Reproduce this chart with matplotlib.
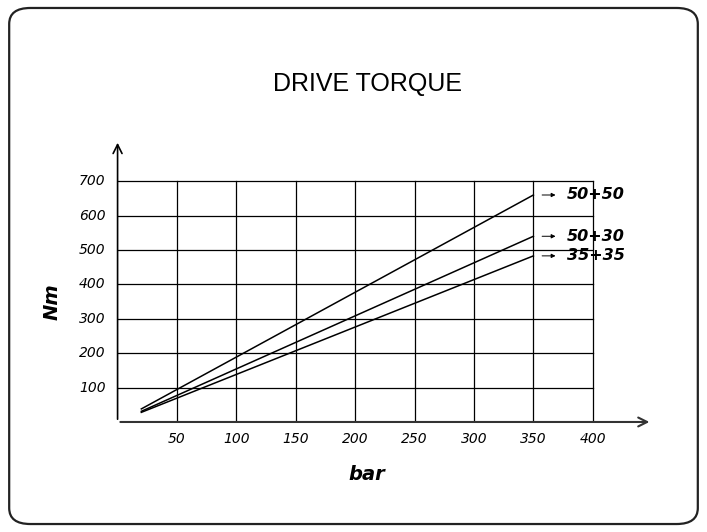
import matplotlib.pyplot as plt
from matplotlib.patches import FancyBboxPatch

# drive torque vs pressure for the three motor combos
pressure = [20, 350]
torque_50_50 = [38, 660]
torque_50_30 = [31, 540]
torque_35_35 = [28, 483]
series_names = ['50+50', '50+30', '35+35']

x_ticks = [50, 100, 150, 200, 250, 300, 350, 400]
y_ticks = [100, 200, 300, 400, 500, 600, 700]

fig = plt.figure(figsize=(7.07, 5.32), dpi=100)

# rounded frame round the whole card
frame = FancyBboxPatch((0.013, 0.015), 0.974, 0.97,
                       boxstyle='round,pad=0,rounding_size=0.03',
                       transform=fig.transFigure, fill=False,
                       edgecolor='#222222', linewidth=1.6)
fig.patches.append(frame)

fig.text(0.52, 0.843, 'DRIVE TORQUE', ha='center', va='center',
         fontsize=18, family='Liberation Sans')

ax = fig.add_axes([0.1663, 0.2068, 0.7562, 0.5301])
ax.set_xlim(0, 450)
ax.set_ylim(0, 820)
for s in ax.spines.values():
    s.set_visible(False)
ax.set_xticks([])
ax.set_yticks([])

# grid
for x in x_ticks:
    ax.plot([x, x], [0, 700], color='black', lw=0.9)
for y in y_ticks:
    ax.plot([-5, 400], [y, y], color='black', lw=0.9)

# axes with open arrow heads
ax.annotate('', xy=(450, 0), xytext=(0, 0),
            arrowprops=dict(arrowstyle='->', color='#333333', lw=1.5,
                            mutation_scale=16),
            annotation_clip=False)
ax.annotate('', xy=(0, 820), xytext=(0, 0),
            arrowprops=dict(arrowstyle='->', color='black', lw=1.2,
                            mutation_scale=16),
            annotation_clip=False)

tick_font = dict(fontsize=10, style='italic', family='DejaVu Sans')
for x in x_ticks:
    ax.text(x, -28, str(x), ha='center', va='top', **tick_font)
for y in y_ticks:
    ax.text(-10, y, str(y), ha='right', va='center', **tick_font)

ax.text(210, -152, 'bar', ha='center', va='center', fontsize=14,
        style='italic', weight='bold')
ax.text(-55, 350, 'Nm', ha='center', va='center', fontsize=14,
        style='italic', weight='bold', rotation=90)

for vals, name in zip([torque_50_50, torque_50_30, torque_35_35], series_names):
    ax.plot(pressure, vals, color='black', lw=1.1)
    ax.annotate('', xy=(371, vals[-1]), xytext=(355, vals[-1]),
                arrowprops=dict(arrowstyle='-|>', color='black', lw=0.7,
                                mutation_scale=6),
                annotation_clip=False)
    ax.text(378, vals[-1], name, ha='left', va='center', fontsize=11.5,
            style='italic', weight='bold')

fig.savefig('out.png', dpi=100)
